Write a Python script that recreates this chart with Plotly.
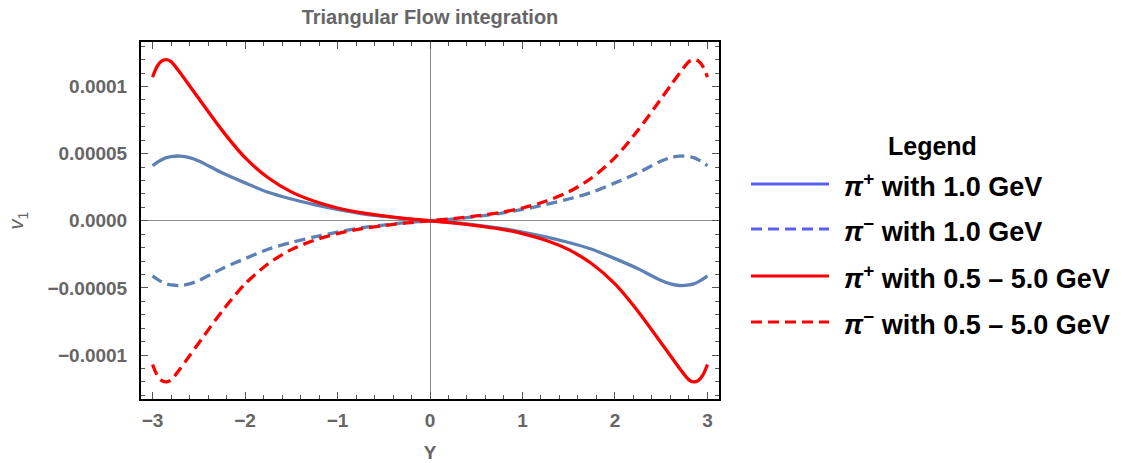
import plotly.graph_objects as go

# Rapidity grid
rapidity = [-3.0, -2.95, -2.9, -2.85, -2.8, -2.7, -2.6, -2.5, -2.25, -2.0, -1.75, -1.5,
            -1.25, -1.0, -0.75, -0.5, -0.25, 0.0, 0.25, 0.5, 0.75, 1.0, 1.25, 1.5, 1.75,
            2.0, 2.25, 2.5, 2.6, 2.7, 2.8, 2.85, 2.9, 2.95, 3.0]

# v1 for pi+ at 1.0 GeV
v1_pip_1gev = [4.10e-5, 4.35e-5, 4.55e-5, 4.70e-5, 4.78e-5, 4.82e-5, 4.70e-5, 4.45e-5,
               3.57e-5, 2.82e-5, 2.12e-5, 1.62e-5, 1.20e-5, 0.84e-5, 0.54e-5, 0.32e-5,
               0.13e-5, 0.0,
               -0.13e-5, -0.32e-5, -0.54e-5, -0.84e-5, -1.20e-5, -1.62e-5, -2.12e-5,
               -2.82e-5, -3.57e-5, -4.45e-5, -4.70e-5, -4.82e-5, -4.78e-5, -4.70e-5,
               -4.55e-5, -4.35e-5, -4.10e-5]

# v1 for pi- at 1.0 GeV
v1_pim_1gev = [-4.10e-5, -4.35e-5, -4.55e-5, -4.70e-5, -4.78e-5, -4.82e-5, -4.70e-5, -4.45e-5,
               -3.57e-5, -2.82e-5, -2.12e-5, -1.62e-5, -1.20e-5, -0.84e-5, -0.54e-5, -0.32e-5,
               -0.13e-5, 0.0,
               0.13e-5, 0.32e-5, 0.54e-5, 0.84e-5, 1.20e-5, 1.62e-5, 2.12e-5,
               2.82e-5, 3.57e-5, 4.45e-5, 4.70e-5, 4.82e-5, 4.78e-5, 4.70e-5,
               4.55e-5, 4.35e-5, 4.10e-5]

# v1 for pi+ integrated over 0.5 - 5.0 GeV
v1_pip_int = [10.70e-5, 11.50e-5, 11.90e-5, 12.00e-5, 11.85e-5, 11.00e-5, 10.05e-5, 9.10e-5,
              6.75e-5, 4.70e-5, 3.20e-5, 2.15e-5, 1.45e-5, 0.95e-5, 0.60e-5, 0.36e-5,
              0.16e-5, 0.0,
              -0.16e-5, -0.36e-5, -0.60e-5, -0.95e-5, -1.45e-5, -2.15e-5, -3.20e-5,
              -4.70e-5, -6.75e-5, -9.10e-5, -10.05e-5, -11.00e-5, -11.85e-5, -12.00e-5,
              -11.90e-5, -11.50e-5, -10.70e-5]

# v1 for pi- integrated over 0.5 - 5.0 GeV
v1_pim_int = [-10.70e-5, -11.50e-5, -11.90e-5, -12.00e-5, -11.85e-5, -11.00e-5, -10.05e-5, -9.10e-5,
              -6.75e-5, -4.70e-5, -3.20e-5, -2.15e-5, -1.45e-5, -0.95e-5, -0.60e-5, -0.36e-5,
              -0.16e-5, 0.0,
              0.16e-5, 0.36e-5, 0.60e-5, 0.95e-5, 1.45e-5, 2.15e-5, 3.20e-5,
              4.70e-5, 6.75e-5, 9.10e-5, 10.05e-5, 11.00e-5, 11.85e-5, 12.00e-5,
              11.90e-5, 11.50e-5, 10.70e-5]

x_tickvals = [-3, -2, -1, 0, 1, 2, 3]
x_ticktext = ["\u22123", "\u22122", "\u22121", "0", "1", "2", "3"]
y_tickvals = [-1e-4, -5e-5, 0, 5e-5, 1e-4]
y_ticktext = ["\u22120.0001", "\u22120.00005", "0.0000", "0.00005", "0.0001"]

legend_labels = ["<i>\u03c0</i><sup>+</sup> with 1.0 GeV",
                 "<i>\u03c0</i><sup>\u2212</sup> with 1.0 GeV",
                 "<i>\u03c0</i><sup>+</sup> with 0.5 \u2013 5.0 GeV",
                 "<i>\u03c0</i><sup>\u2212</sup> with 0.5 \u2013 5.0 GeV"]

BLUE = "#5e81b5"
BLUE_KEY = "#5a60f2"
RED = "#ff0000"
GREY = "#666666"
DASH = "11px,6px"
FONT = "Liberation Sans, Arial, sans-serif"

W, H = 1123, 463
L, R, T, B = 141, 404, 42, 64
PW, PH = W - L - R, H - T - B


def px_x(p):
    return (p - L) / PW


def px_y(p):
    return 1 - (p - T) / PH


fig = go.Figure()
series = [
    (v1_pip_1gev, BLUE, "solid"),
    (v1_pim_1gev, BLUE, DASH),
    (v1_pip_int, RED, "solid"),
    (v1_pim_int, RED, DASH),
]
for ys, col, dash in series:
    fig.add_trace(go.Scatter(
        x=rapidity, y=ys, mode="lines",
        line=dict(color=col, width=3.3, dash=dash, shape="spline", smoothing=0.8),
        showlegend=False, hoverinfo="skip"))

axis_common = dict(
    showline=True, linecolor="#000000", linewidth=2, mirror="allticks",
    ticks="inside", ticklen=7, tickwidth=1, tickcolor="#555555",
    showgrid=False, zeroline=True, zerolinecolor="#8c8c8c", zerolinewidth=1,
    automargin=False,
    tickfont=dict(family=FONT, size=19, color=GREY, weight="bold"),
)

fig.update_xaxes(
    range=[-3.125, 3.125], tickmode="array", tickvals=x_tickvals, ticktext=x_ticktext,
    minor=dict(ticks="inside", ticklen=4, dtick=0.2, tick0=0, tickcolor="#555555"),
    ticklabelstandoff=3,
    title=dict(text="<b>Y</b>", font=dict(family=FONT, size=19, color=GREY), standoff=20),
    **axis_common)
fig.update_yaxes(
    range=[-1.327e-4, 1.331e-4], tickmode="array", tickvals=y_tickvals, ticktext=y_ticktext,
    minor=dict(ticks="inside", ticklen=4, dtick=1e-5, tick0=0, tickcolor="#555555"),
    ticklabelstandoff=8,
    title=dict(text="<i>v</i><sub>1</sub>", font=dict(family=FONT, size=20, color=GREY), standoff=18),
    **axis_common)

# Legend block drawn to the right of the frame
annotations = [dict(
    x=px_x(932), y=px_y(146), xref="paper", yref="paper", text="<b>Legend</b>",
    showarrow=False, xanchor="center", yanchor="middle",
    font=dict(family=FONT, size=25, color="#000000"))]
shapes = []
key_rows = [184, 229, 276, 322]
key_styles = [(BLUE_KEY, "solid"), (BLUE_KEY, DASH), (RED, "solid"), (RED, DASH)]
for row, (col, dash), label in zip(key_rows, key_styles, legend_labels):
    shapes.append(dict(type="line", xref="paper", yref="paper",
                       x0=px_x(751), x1=px_x(829), y0=px_y(row), y1=px_y(row),
                       line=dict(color=col, width=3, dash=dash)))
    annotations.append(dict(
        x=px_x(842), y=px_y(row + 1), xref="paper", yref="paper", text="<b>" + label + "</b>",
        showarrow=False, xanchor="left", yanchor="middle",
        font=dict(family=FONT, size=27, color="#000000")))

fig.update_layout(
    width=W, height=H,
    margin=dict(l=L, r=R, t=T, b=B, pad=0, autoexpand=False),
    paper_bgcolor="#ffffff", plot_bgcolor="#ffffff",
    title=dict(text="<b>Triangular Flow integration</b>", x=430 / W,
               xanchor="center", y=1 - 17 / H, yanchor="middle",
               font=dict(family=FONT, size=20, color=GREY)),
    annotations=annotations, shapes=shapes,
)

fig.write_html("out.html")
